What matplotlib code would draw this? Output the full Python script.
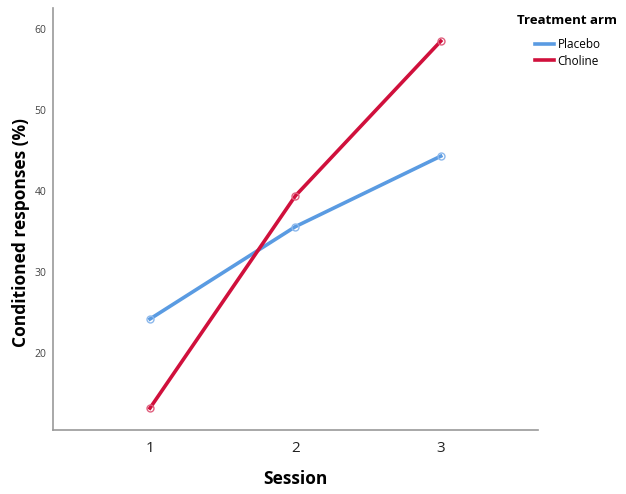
import numpy as np
import matplotlib.pyplot as plt

sessions = [1, 2, 3]
placebo = [24.2, 35.6, 44.3]
choline = [13.2, 39.4, 58.5]
yticks = [20, 30, 40, 50, 60]

font = "Open Sans"

fig = plt.figure(figsize=(6.26, 4.94), dpi=100)
ax = fig.add_axes([0.0847, 0.1296, 0.7743, 0.8544])

ax.plot(sessions, placebo, color="#5a9be2", linewidth=2.6, marker="o",
        markersize=5, markerfacecolor="none", markeredgewidth=1.0,
        markeredgecolor="#8cb8ec", label="Placebo")
ax.plot(sessions, choline, color="#d0103c", linewidth=2.6, marker="o",
        markersize=5, markerfacecolor="none", markeredgewidth=1.0,
        markeredgecolor="#e0607e", label="Choline")

ax.set_xlim(0.333, 3.667)
ax.set_ylim(10.5, 62.6)
ax.set_xticks(sessions)
ax.set_yticks(yticks)
ax.tick_params(length=0)
ax.tick_params(axis="y", labelsize=7.5, labelcolor="#444444", pad=5)
ax.tick_params(axis="x", labelsize=11, labelcolor="#222222", pad=8)
for lab in ax.get_xticklabels() + ax.get_yticklabels():
    lab.set_family(font)

for s in ["top", "right"]:
    ax.spines[s].set_visible(False)
for s in ["left", "bottom"]:
    ax.spines[s].set_color("#999999")
    ax.spines[s].set_linewidth(1.2)

ax.set_xlabel("Session", fontsize=12.5, fontweight="bold", family=font, labelpad=10)
ax.set_ylabel("Conditioned responses (%)", fontsize=12.5, fontweight="bold",
              family=font)
ax.yaxis.set_label_coords(-0.047, 0.469)

fig.text(517 / 626, 1 - 20 / 494, "Treatment arm", fontsize=9.5, fontweight="bold",
         family=font, ha="left", va="center")
leg = fig.legend(loc="upper left", bbox_to_anchor=(535 / 626, 1 - 38 / 494),
                 frameon=False, handlelength=1.6, handletextpad=0.3,
                 prop={"family": font, "size": 8.5}, borderaxespad=0,
                 borderpad=0, labelspacing=0.3)
for h in leg.legend_handles:
    h.set_marker("")

fig.savefig("out.png", dpi=100)
